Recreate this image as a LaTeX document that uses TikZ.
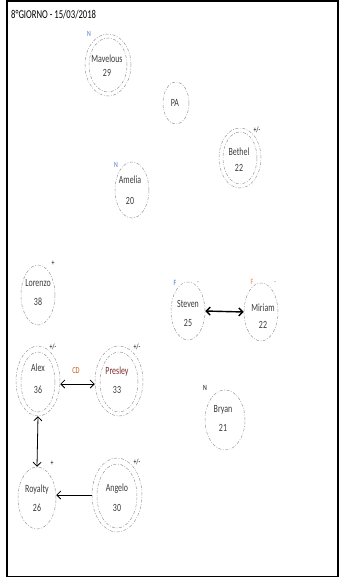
\documentclass[tikz,border=0pt]{standalone}
\usepackage{fontspec}
\setmainfont{Carlito}[FakeStretch=0.72]
\usetikzlibrary{shapes.geometric,arrows.meta}
\definecolor{nblue}{HTML}{4472C4}
\definecolor{forange}{HTML}{ED7D31}
\definecolor{cdorange}{HTML}{C55A11}
\definecolor{txtgray}{HTML}{3A3A3A}
\definecolor{pres}{HTML}{7B2C2C}
\tikzset{
  ell/.style={ellipse, draw=gray!80, line width=0.5pt,
    dash pattern=on 3pt off 1.6pt on 0.8pt off 1.6pt, inner sep=0pt},
  txt/.style={align=center, font=\fontsize{11}{12}\selectfont, text=txtgray, inner sep=0pt},
  tag/.style={font=\fontsize{8}{9}\selectfont, inner sep=0pt},
  link/.style={draw=black, line width=0.8pt, {Straight Barb[length=4pt,width=8pt]}-{Straight Barb[length=4pt,width=8pt]}},
  onelink/.style={draw=black, line width=0.8pt, -{Straight Barb[length=4pt,width=8pt]}}
}
\begin{document}
\begin{tikzpicture}[x=1pt,y=-1pt]
\useasboundingbox (0,0) rectangle (338,579);
\draw[line width=1.6pt] (6.8,0.8) rectangle (338,576.5);
\node[anchor=west, font=\fontsize{12}{13}\selectfont, text=black, inner sep=0pt] (title) at (11,15) {8°GIORNO - 15/03/2018};

% Marvelous
\node[ell, minimum width=46, minimum height=62] (mav) at (108,65) {};
\node[ell, minimum width=38, minimum height=54] (mavin) at (108,65) {};
\node[txt] (mavt) at (107,66) {Mavelous\\[2pt]29};
\node[tag, text=nblue] (mavn) at (89,34) {N};

% PA
\node[ell, minimum width=26, minimum height=42] (pa) at (176,103) {};
\node[txt] (pat) at (175,103) {PA};

% Bethel
\node[ell, minimum width=42, minimum height=60] (bet) at (240,158) {};
\node[ell, minimum width=34, minimum height=52] (betin) at (240,158) {};
\node[txt] (bett) at (239,159.5) {Bethel\\[4pt]22};
\node[tag, text=black] (betp) at (257,130) {+/-};

% Amelia
\node[ell, minimum width=34, minimum height=56] (ame) at (132,190) {};
\node[txt] (amet) at (130,190.5) {Amelia\\[9pt]20};
\node[tag, text=nblue] (amen) at (116,165) {N};

% Lorenzo
\node[ell, minimum width=34, minimum height=60] (lor) at (38,295) {};
\node[txt] (lort) at (38,293) {Lorenzo\\[7pt]38};
\node[tag, text=black] (lorp) at (53,263) {+};

% Steven
\node[ell, minimum width=34, minimum height=58] (ste) at (188,311) {};
\node[txt] (stet) at (188,313) {Steven\\[7pt]25};
\node[tag, text=nblue] (stef) at (175,283) {F};
\node[tag, text=gray] (stem) at (198,283) {-};

% Miriam
\node[ell, minimum width=34, minimum height=58] (mir) at (261,312) {};
\node[txt] (mirt) at (263,316) {Miriam\\[5pt]22};
\node[tag, text=forange] (mirf) at (252,282) {F};
\node[tag, text=gray] (mirm) at (275,283) {-};

\draw[link, line width=1.4pt] (ste.east) -- (mir.west);

% Alex
\node[ell, minimum width=44, minimum height=70] (alex) at (38,381) {};
\node[ell, minimum width=34, minimum height=60] (alexin) at (38,382) {};
\node[txt] (alext) at (38,378.5) {Alex\\[10pt]36};
\node[tag, text=black] (alexp) at (53,347) {+/-};

% Presley
\node[ell, minimum width=48, minimum height=70] (pre) at (119,381) {};
\node[ell, minimum width=38, minimum height=60] (prein) at (119,382) {};
\node[txt, text=pres] (pret) at (117,380) {Presley\\[7pt]\textcolor{txtgray}{33}};
\node[tag, text=black] (prep) at (137,347) {+/-};

\node[tag, font=\fontsize{9}{10}\selectfont, text=cdorange] (cd) at (76,371) {CD};
\draw[link] ([yshift=-3pt]alex.east) -- ([yshift=-3pt]pre.west);

% Bryan
\node[ell, minimum width=40, minimum height=60] (bry) at (225,420) {};
\node[txt] (bryt) at (223,418) {Bryan\\[7pt]21};
\node[tag, text=black] (bryn) at (205,388) {N};

% Royalty
\node[ell, minimum width=38, minimum height=62] (roy) at (37,498) {};
\node[txt] (royt) at (37,498) {Royalty\\[7pt]26};
\node[tag, text=black] (royp) at (52,463) {+};

% Angelo
\node[ell, minimum width=50, minimum height=74] (ang) at (117,495) {};
\node[ell, minimum width=40, minimum height=64] (angin) at (117,496) {};
\node[txt] (angt) at (117,497.5) {Angelo\\[8pt]30};
\node[tag, text=black] (angp) at (137,462) {+/-};

\draw[link] (alex.south) -- (roy.north);
\draw[onelink] (ang.west) -- (ang.west -| roy.east);
\end{tikzpicture}
\end{document}
